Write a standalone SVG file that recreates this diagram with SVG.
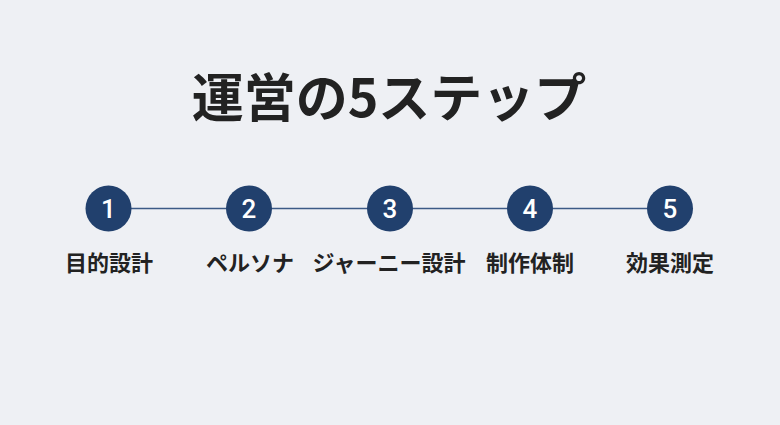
<svg xmlns="http://www.w3.org/2000/svg" width="780" height="425" viewBox="0 0 780 425">
<style>
.t{font-family:"Noto Sans CJK JP","Noto Sans",sans-serif;font-weight:700;fill:#222222;text-anchor:middle}
.c{fill:#21406d}
.n{font-family:Roboto,"Noto Sans",sans-serif;font-weight:500;font-size:26px;fill:#ffffff;text-anchor:middle}
.l{font-family:"Noto Sans CJK JP","Noto Sans",sans-serif;font-weight:700;font-size:22px;fill:#222222;text-anchor:middle}
</style>
<rect width="780" height="425" fill="#eef0f4"/>
<text class="t" x="389" y="117" font-size="52">運営の5ステップ</text>
<g id="connectors">
<line x1="108" y1="208.5" x2="670" y2="208.5" stroke="#3c5a86" stroke-width="1.5"/>
</g>
<g id="step1"><circle class="c" cx="108.5" cy="208.5" r="23"/><text class="n" x="108.5" y="217.5">1</text><text class="l" x="109" y="271">目的設計</text></g>
<g id="step2"><circle class="c" cx="249" cy="208.5" r="23"/><text class="n" x="249" y="217.5">2</text><text class="l" x="250" y="271">ペルソナ</text></g>
<g id="step3"><circle class="c" cx="390" cy="208.5" r="23"/><text class="n" x="390" y="217.5">3</text><text class="l" x="389" y="271">ジャーニー設計</text></g>
<g id="step4"><circle class="c" cx="530" cy="208.5" r="23"/><text class="n" x="530" y="217.5">4</text><text class="l" x="530" y="271">制作体制</text></g>
<g id="step5"><circle class="c" cx="670" cy="208.5" r="23"/><text class="n" x="670" y="217.5">5</text><text class="l" x="670" y="271">効果測定</text></g>
</svg>
